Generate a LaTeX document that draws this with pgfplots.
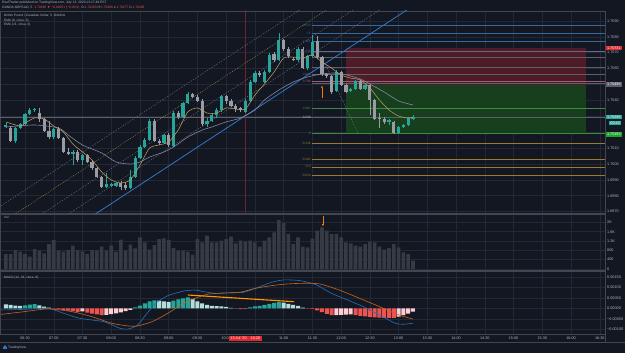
\documentclass[border=0pt]{standalone}
\usepackage{fontspec}
\setmainfont{Liberation Sans}
\usepackage{pgfplots}
\usepackage{pgfplotstable}
\pgfplotsset{compat=1.18}
\usetikzlibrary{arrows.meta}

\definecolor{bg}{HTML}{131722}
\definecolor{gridc}{HTML}{242835}
\definecolor{sep}{HTML}{434651}
\definecolor{txt}{HTML}{B2B5BE}
\definecolor{bull}{HTML}{26A69A}
\definecolor{bear}{HTML}{9A9CA5}
\definecolor{emaA}{HTML}{B89C63}
\definecolor{emaB}{HTML}{8A8CAA}
\definecolor{volc}{HTML}{363A45}
\definecolor{hdark}{HTML}{26A69A}
\definecolor{hlight}{HTML}{B2DFDB}
\definecolor{hred}{HTML}{EF5350}
\definecolor{hpink}{HTML}{FFCDD2}
\definecolor{macdc}{HTML}{2471B8}
\definecolor{sigc}{HTML}{C8641E}
\definecolor{fibblue}{HTML}{34699E}
\definecolor{fiborange}{HTML}{9C7A35}
\definecolor{fibgreen}{HTML}{3E8A45}
\definecolor{fibgray}{HTML}{5D606B}
\definecolor{fibpink}{HTML}{9C5F73}
\definecolor{fibpurple}{HTML}{6E6390}
\definecolor{stopfill}{HTML}{4E1B26}
\definecolor{tgtfill}{HTML}{173F1D}
\definecolor{chgray}{HTML}{6A6D78}
\definecolor{chyel}{HTML}{9A9A3C}
\definecolor{chblue}{HTML}{2F78C4}
\definecolor{arrowc}{HTML}{F57C00}
\definecolor{trendc}{HTML}{FF9800}
\definecolor{redlbl}{HTML}{E0282E}
\definecolor{greylbl}{HTML}{5D606B}
\definecolor{greenlbl}{HTML}{1FA329}
\definecolor{vline}{HTML}{6B2430}
\definecolor{hdred}{HTML}{EF5350}

\newcommand{\axfont}{\fontsize{3.8}{4.5}\selectfont}
\newcommand{\hdfont}{\fontsize{3.3}{4}\selectfont}
\newcommand{\fbfont}{\fontsize{3.2}{4}\selectfont}

\pgfplotstableread{
i o h l c
-4 1.70233 1.70258 1.70226 1.70245
-2 1.70145 1.70233 1.70132 1.70226
-1 1.70226 1.70258 1.70220 1.70252
0 1.70252 1.70321 1.70245 1.70315
1 1.70315 1.70352 1.70308 1.70340
2 1.70337 1.70352 1.70327 1.70343
6 1.70170 1.70226 1.70157 1.70220
10 1.70063 1.70088 1.69994 1.70075
12 1.70025 1.70063 1.69994 1.70057
17 1.69855 1.69943 1.69849 1.69874
18 1.69862 1.69880 1.69855 1.69874
19 1.69862 1.69887 1.69855 1.69880
22 1.69849 1.69962 1.69843 1.69918
23 1.69918 1.70050 1.69912 1.70038
24 1.70038 1.70120 1.70031 1.70107
25 1.70107 1.70164 1.70101 1.70151
26 1.70151 1.70283 1.70145 1.70270
29 1.70132 1.70189 1.70126 1.70182
31 1.70113 1.70333 1.70107 1.70321
33 1.70296 1.70390 1.70289 1.70384
34 1.70384 1.70453 1.70377 1.70440
38 1.70252 1.70289 1.70233 1.70270
39 1.70270 1.70321 1.70264 1.70308
40 1.70308 1.70352 1.70289 1.70340
41 1.70340 1.70434 1.70327 1.70428
46 1.70327 1.70409 1.70321 1.70396
47 1.70396 1.70528 1.70390 1.70516
48 1.70516 1.70585 1.70509 1.70572
50 1.70516 1.70591 1.70509 1.70579
51 1.70579 1.70698 1.70572 1.70686
53 1.70654 1.70824 1.70648 1.70780
57 1.70654 1.70736 1.70642 1.70723
59 1.70604 1.70686 1.70591 1.70679
60 1.70679 1.70811 1.70673 1.70767
65 1.70459 1.70591 1.70453 1.70579
68 1.70459 1.70478 1.70453 1.70472
69 1.70472 1.70528 1.70465 1.70522
71 1.70472 1.70503 1.70465 1.70497
76 1.70261 1.70283 1.70245 1.70274
78 1.70195 1.70239 1.70189 1.70233
79 1.70233 1.70252 1.70226 1.70245
80 1.70245 1.70296 1.70239 1.70289
81 1.70283 1.70308 1.70277 1.70296
}\bulltab

\pgfplotstableread{
i o h l c
-3 1.70226 1.70239 1.70138 1.70145
3 1.70321 1.70352 1.70264 1.70283
4 1.70283 1.70289 1.70201 1.70208
5 1.70208 1.70270 1.70157 1.70170
7 1.70220 1.70233 1.70157 1.70164
8 1.70164 1.70170 1.70069 1.70075
9 1.70075 1.70101 1.70057 1.70063
11 1.70075 1.70088 1.70013 1.70025
13 1.70057 1.70063 1.70006 1.70013
14 1.70013 1.70025 1.69962 1.69975
15 1.69975 1.69981 1.69912 1.69918
16 1.69918 1.69925 1.69849 1.69855
20 1.69880 1.69893 1.69836 1.69855
21 1.69868 1.69887 1.69836 1.69849
27 1.70270 1.70283 1.70138 1.70145
28 1.70145 1.70157 1.70120 1.70132
30 1.70182 1.70195 1.70107 1.70120
32 1.70321 1.70333 1.70283 1.70296
35 1.70440 1.70447 1.70415 1.70421
36 1.70421 1.70434 1.70390 1.70396
37 1.70396 1.70409 1.70239 1.70252
42 1.70428 1.70434 1.70377 1.70396
43 1.70396 1.70409 1.70359 1.70365
44 1.70365 1.70377 1.70327 1.70346
45 1.70352 1.70359 1.70327 1.70340
49 1.70572 1.70585 1.70547 1.70560
52 1.70692 1.70704 1.70642 1.70654
54 1.70780 1.70786 1.70711 1.70723
55 1.70723 1.70736 1.70667 1.70679
56 1.70660 1.70673 1.70648 1.70657
58 1.70723 1.70736 1.70598 1.70604
61 1.70774 1.70805 1.70660 1.70673
62 1.70673 1.70679 1.70554 1.70566
63 1.70566 1.70572 1.70541 1.70554
64 1.70554 1.70560 1.70440 1.70453
66 1.70579 1.70585 1.70491 1.70497
67 1.70497 1.70503 1.70447 1.70453
70 1.70522 1.70528 1.70465 1.70472
72 1.70497 1.70503 1.70308 1.70403
73 1.70403 1.70409 1.70277 1.70283
74 1.70289 1.70321 1.70226 1.70283
75 1.70283 1.70296 1.70252 1.70264
77 1.70264 1.70270 1.70189 1.70195
}\beartab

\pgfplotsset{
  tv/.style={
    scale only axis, width=605bp,
    xmin=-5.22, xmax=121.09,
    axis line style={draw=sep, line width=0.6bp},
    grid=major, major grid style={draw=gridc, line width=0.45bp},
    xtick={0,6,...,120}, xticklabels={},
    major tick length=0pt,
    scaled ticks=false,
    ytick pos=right, yticklabel pos=right,
    yticklabel style={font=\axfont, text=txt, anchor=west, inner sep=0pt, xshift=2bp},
    clip=true,
  },
}

\begin{document}
\begin{tikzpicture}[x=1bp,y=1bp]
\path[use as bounding box] (0,0) rectangle (625,353);
\fill[bg] (0,0) rectangle (625,353);

% ---------------- price pane ----------------
\begin{axis}[tv, at={(0bp,139.5bp)}, anchor=south west, height=202.5bp,
  ymin=1.69688, ymax=1.70962,
  ytick={1.697,1.698,1.699,1.700,1.701,1.702,1.703,1.704,1.705,1.706,1.707,1.708,1.709},
  yticklabels={1.6970,1.6980,1.6990,1.7000,1.7010,{},{},1.7040,{},1.7060,1.7070,1.7080,1.7090}]
% position tool boxes
\addplot[draw=none, fill=stopfill] coordinates {(67,1.70496) (117.1,1.70496) (117.1,1.70731) (67,1.70731)};
\addplot[draw=none, fill=tgtfill] coordinates {(67,1.70193) (117.1,1.70193) (117.1,1.70496) (67,1.70496)};
% fib lines
\addplot[fibblue, line width=0.5bp] coordinates {(59.9,1.70874) (121.1,1.70874)};
\addplot[fibblue, line width=0.5bp] coordinates {(59.9,1.70822) (121.1,1.70822)};
\addplot[fibblue, line width=0.5bp] coordinates {(59.9,1.70773) (121.1,1.70773)};
\addplot[fibpurple, line width=0.5bp] coordinates {(59.9,1.70706) (121.1,1.70706)};
\addplot[fibgray, line width=0.5bp] coordinates {(59.9,1.70671) (121.1,1.70671)};
\addplot[fibgray, line width=0.5bp] coordinates {(59.9,1.70611) (121.1,1.70611)};
\addplot[fibgray, line width=0.5bp] coordinates {(59.9,1.70566) (121.1,1.70566)};
\addplot[fibpink, line width=0.5bp] coordinates {(59.9,1.70517) (121.1,1.70517)};
\addplot[fibgray, line width=0.5bp] coordinates {(59.9,1.70507) (121.1,1.70507)};
\addplot[fibgreen, line width=0.5bp] coordinates {(59.9,1.70350) (121.1,1.70350)};
\addplot[fibgray, line width=0.5bp] coordinates {(59.9,1.70291) (121.1,1.70291)};
\addplot[fibgreen, line width=0.5bp] coordinates {(59.9,1.70193) (121.1,1.70193)};
\addplot[fiborange, line width=0.5bp] coordinates {(59.9,1.70130) (121.1,1.70130)};
\addplot[fiborange, line width=0.5bp] coordinates {(59.9,1.70029) (121.1,1.70029)};
\addplot[fiborange, line width=0.5bp] coordinates {(59.9,1.69982) (121.1,1.69982)};
\addplot[fiborange, line width=0.5bp] coordinates {(59.9,1.69930) (121.1,1.69930)};
% current price line
\addplot[fibgray, line width=0.4bp] coordinates {(-6,1.70296) (121.1,1.70296)};
% red time marker
\addplot[vline, line width=0.5bp] coordinates {(46,1.6960) (46,1.7100)};
% channel lines
\addplot[chgray, line width=0.45bp, dash pattern=on 1.4bp off 1.4bp] coordinates {(-6,1.69717) (100,1.71811)};
\addplot[chyel, line width=0.45bp, dash pattern=on 0.8bp off 1.2bp] coordinates {(-6,1.69607) (100,1.71701)};
\addplot[chgray, line width=0.45bp, dash pattern=on 1.4bp off 1.4bp] coordinates {(-6,1.69497) (100,1.71591)};
\addplot[chgray, line width=0.45bp, dash pattern=on 1.4bp off 1.4bp] coordinates {(-6,1.69387) (100,1.71481)};
\addplot[chblue, line width=0.8bp] coordinates {(-6,1.69276) (100,1.71369)};
\addplot[chgray, line width=0.45bp, dash pattern=on 1.4bp off 1.4bp] coordinates {(62.6,1.70635) (69.5,1.70194)};
% candles
\addplot[bear, line width=0.6bp, quiver={u=0, v=\thisrow{h}-\thisrow{l}}] table[x=i, y=l] {\beartab};
\addplot[bull, line width=0.6bp, quiver={u=0, v=\thisrow{h}-\thisrow{l}}] table[x=i, y=l] {\bulltab};
\addplot[bear, line width=3.2bp, quiver={u=0, v=\thisrow{c}-\thisrow{o}}] table[x=i, y=o] {\beartab};
\addplot[bull, line width=3.2bp, quiver={u=0, v=\thisrow{c}-\thisrow{o}}] table[x=i, y=o] {\bulltab};
% EMAs
\addplot[emaB, line width=0.55bp, smooth, tension=0.4] coordinates {
(-4,1.70232) (2,1.70245) (7,1.70226) (9,1.70182) (12,1.70119) (16,1.70069) (19,1.70012) (22,1.69999)
(24,1.70012) (26,1.70043) (29,1.70075) (31,1.70106) (34,1.70169) (37,1.70213) (39,1.70232) (42,1.70264)
(45,1.70289) (48,1.70339) (50,1.70402) (53,1.70465) (56,1.70515) (59,1.70547) (62,1.70566) (65,1.70572)
(68,1.70553) (70,1.70534) (72,1.70503) (75,1.70452) (78,1.70396) (81,1.70371)};
\addplot[emaA, line width=0.55bp, smooth, tension=0.4] coordinates {
(-4,1.70264) (-1,1.70238) (0,1.70257) (2,1.70289) (4,1.70283) (6,1.70238) (8,1.70201) (10,1.70125)
(12,1.70075) (14,1.70025) (16,1.69949) (18,1.69899) (20,1.69880) (22,1.69899) (24,1.69993) (26,1.70100)
(28,1.70119) (30,1.70138) (32,1.70214) (34,1.70327) (36,1.70352) (38,1.70320) (40,1.70320) (42,1.70352)
(44,1.70345) (46,1.70345) (48,1.70433) (50,1.70503) (52,1.70578) (54,1.70666) (56,1.70672) (58,1.70666)
(60,1.70685) (62,1.70641) (64,1.70603) (66,1.70559) (68,1.70540) (70,1.70528) (72,1.70478) (74,1.70402)
(76,1.70339) (78,1.70301) (80,1.70289) (81,1.70295)};
% arrow
\addplot[arrowc, line width=0.6bp, -{Latex[length=2.2bp,width=2.2bp]}] coordinates {(62,1.70412) (62,1.70493)};
% fib labels
\begin{scope}[every node/.style={anchor=east, font=\fbfont, inner sep=0pt}]
\node[text=fibblue] at (59.7,1.70874) {1.618};
\node[text=fibblue] at (59.7,1.70822) {1.5};
\node[text=fibblue] at (59.7,1.70773) {1.382};
\node[text=fibpurple] at (59.7,1.70706) {1.236};
\node[text=fibgray] at (59.7,1.70566) {0.886};
\node[text=fibpink] at (59.7,1.70517) {0.786};
\node[text=fibgreen] at (59.7,1.70350) {0.382};
\node[text=txt] at (59.7,1.70291) {0.236};
\node[text=fibgreen] at (59.7,1.70193) {0};
\node[text=fiborange] at (59.7,1.70130) {−0.146};
\node[text=fiborange] at (59.7,1.70029) {−0.382};
\node[text=fiborange] at (59.7,1.69982) {−0.5};
\node[text=fiborange] at (59.7,1.69930) {−0.618};
\end{scope}
\end{axis}

% ---------------- volume pane ----------------
\begin{axis}[tv, at={(0bp,83bp)}, anchor=south west, height=55.5bp,
  ymin=-43, ymax=2339,
  ytick={0,400,800,1200,1600,2000}, yticklabels={0,400,800,1.2K,1.6K,2K}]
\addplot[ybar, bar width=3.6bp, bar shift=0pt, fill=volc, draw=none] coordinates {
(-4,643)(-3,643)(-2,815)(-1,742)(0,643)(1,528)(2,858)(3,785)(4,669)(5,1072)(6,1244)(7,785)(8,742)(9,815)
(10,1000)(11,815)(12,755)(13,643)(14,815)(15,785)(16,957)(17,785)(18,1000)(19,742)(20,1257)(21,785)
(22,1043)(23,884)(24,1356)(25,1141)(26,828)(27,1030)(28,1287)(29,1313)(30,1244)(31,901)(32,785)(33,785)
(34,742)(35,613)(36,1287)(37,1141)(38,1428)(39,1141)(40,1141)(41,1214)(42,1287)(43,1386)(44,1098)
(45,1214)(46,1170)(47,1214)(48,1141)(49,957)(50,1214)(51,1356)(52,1570)(53,2102)(54,1973)(55,1501)
(56,1072)(57,1356)(58,957)(59,930)(60,1300)(61,1643)(62,1785)(63,1643)(64,1501)(65,1501)(66,1356)
(67,1141)(68,1098)(69,1000)(70,957)(71,1072)(72,1170)(73,1141)(74,957)(75,828)(76,901)(77,1072)
(78,930)(79,712)(80,643)(81,356)};
\addplot[arrowc, line width=0.6bp, -{Latex[length=2.2bp,width=2.2bp]}] coordinates {(62.2,2260) (62.2,1830)};
\end{axis}

% ---------------- MACD pane ----------------
\begin{axis}[tv, at={(0bp,18.5bp)}, anchor=south west, height=63.5bp,
  ymin=-0.001247, ymax=0.001775,
  ytick={-0.001,-0.0005,0,0.0005,0.001,0.0015},
  yticklabels={−0.00100,−0.00050,0.00000,0.00050,0.00100,0.00150},
  xticklabels={06:30,07:00,07:30,08:00,08:30,09:00,09:30,10:00,{},11:00,11:30,12:00,12:30,13:00,13:30,14:00,14:30,15:00,15:30,16:00,16:30},
  xticklabel style={font=\axfont, text=txt, anchor=north, inner sep=0pt, yshift=-2.4bp}]
\addplot[ybar, bar width=4bp, bar shift=0pt, fill=hdark, draw=none] coordinates {
(0,.00014)(1,.00018)(2,.00020)(23,.00005)(24,.00013)(25,.00023)(26,.00033)(27,.00038)(31,.00037)(32,.00042)
(33,.00047)(34,.00052)(47,.00005)(48,.00009)(49,.00012)(50,.00016)(51,.00021)(52,.00026)(53,.00031)};
\addplot[ybar, bar width=4bp, bar shift=0pt, fill=hlight, draw=none] coordinates {
(-4,.00019)(-3,.00016)(-2,.00013)(-1,.00011)(3,.00014)(4,.00008)(5,.00003)(28,.00036)(29,.00033)(30,.00031)
(35,.00045)(36,.00033)(37,.00023)(38,.00016)(39,.00012)(40,.00010)(41,.00009)(42,.00007)(43,.00002)
(54,.00027)(55,.00021)(56,.00016)(57,.00011)(58,.00003)};
\addplot[ybar, bar width=4bp, bar shift=0pt, fill=hred, draw=none] coordinates {
(6,-.00002)(7,-.00005)(8,-.00008)(9,-.00011)(10,-.00014)(11,-.00017)(13,-.00020)(14,-.00025)(15,-.00029)
(16,-.00032)(44,-.00002)(45,-.00004)(59,-.00001)(60,-.00003)(61,-.00010)(62,-.00018)(63,-.00026)(64,-.00033)
(69,-.00033)(70,-.00036)(71,-.00039)(72,-.00041)(73,-.00043)(74,-.00044)(75,-.00045)(76,-.00046)(77,-.00046)};
\addplot[ybar, bar width=4bp, bar shift=0pt, fill=hpink, draw=none] coordinates {
(12,-.00015)(17,-.00031)(18,-.00028)(19,-.00024)(20,-.00019)(21,-.00013)(22,-.00007)(46,-.00001)
(65,-.00032)(66,-.00031)(67,-.00030)(68,-.00029)(78,-.00040)(79,-.00033)(80,-.00025)(81,-.00016)};
\addplot[macdc, line width=0.6bp, smooth, tension=0.4] coordinates {
(-5,-0.00008) (0,-0.00005) (4.8,0.0) (8.1,-0.00024) (11.5,-0.00048) (16.5,-0.00064) (19.8,-0.00095)
(21.5,-0.00099) (23.5,-0.00080) (25.2,-0.00032) (27.3,0.00024) (29.8,0.00060) (33.1,0.00082) (35.6,0.00087)
(37.3,0.00079) (39.8,0.00071) (43.1,0.00074) (45.6,0.00076) (48.1,0.00095) (51.5,0.00124) (54,0.00135)
(57.3,0.00132) (60.6,0.00114) (64,0.00071) (67.3,0.00040) (70.6,0.00008) (74,-0.00032) (77.3,-0.00071)
(79,-0.00076) (81,-0.00071)};
\addplot[sigc, line width=0.6bp, smooth, tension=0.4] coordinates {
(-5,-0.00029) (-0.2,-0.00016) (4.8,-0.00003) (9.8,-0.00016) (14,-0.00040) (18.1,-0.00071) (21.5,-0.00084)
(23.5,-0.00084) (26.5,-0.00064) (29.8,-0.00024) (33.1,0.00024) (35.6,0.00048) (38.1,0.00067) (41.5,0.00073)
(44.8,0.00076) (48.1,0.00095) (51.5,0.00108) (54.8,0.00116) (58.1,0.00119) (61.5,0.00116) (65.6,0.00087)
(69.8,0.00048) (74,0.00008) (78.1,-0.00032) (81,-0.00051)};
\addplot[trendc, line width=1.1bp] coordinates {(34,0.000633) (56.2,0.000314)};
\end{axis}

% ---------------- overlays ----------------
\draw[sep, line width=0.6bp] (0,11) -- (625,11);
\draw[sep, line width=0.6bp] (605,11) -- (605,18.5);
% right axis boxes
\begin{scope}[every node/.style={font=\axfont, text=white, anchor=west, inner xsep=1.2bp, inner ysep=0.7bp}]
\node[fill=redlbl] at (605.6,305.3) {1.70731};
\node[fill=greylbl] at (605.6,268.5) {1.70496};
\node[fill=bull] at (605.6,236) {1.70296};
\node[fill=bull] at (609,229.8) {00:43};
\node[fill=greenlbl] at (605.6,218.5) {1.70193};
\end{scope}
% time box
\node[fill=redlbl, text=white, font=\axfont, inner xsep=1.5bp, inner ysep=0.8bp] at (245.3,14.5) {13 Jul '20\hspace{4bp}10:20};
% header
\node[anchor=west, font=\hdfont, text=txt, inner sep=0pt] at (2,350.3) {ReefTrader published on TradingView.com, July 13, 2020 13:17:49 EST};
\node[anchor=west, font=\hdfont, text=txt, inner sep=0pt] at (2,345.5) {OANDA:GBPCAD, 5\hspace{2bp}\textcolor{hdred}{1.70296 ▼ −0.00051 (−0.03\%)}\hspace{2bp}O:\textcolor{hdred}{1.70283} H:\textcolor{hdred}{1.70308} L:\textcolor{hdred}{1.70277} C:\textcolor{hdred}{1.70296}};
% pane titles
\begin{scope}[every node/.style={anchor=west, font=\fbfont, text=txt, inner sep=0pt}]
\node at (4,337.5) {British Pound / Canadian Dollar, 5, OANDA};
\node at (4,332.8) {EMA (8, close, 0)};
\node at (4,328.2) {EMA (21, close, 0)};
\node at (4,135.5) {Vol};
\node at (4,75) {MACD (12, 26, close, 9)};
\end{scope}
% logo
\fill[chblue] (3,4) rectangle (7,6.5);
\fill[chblue] (5,6.5) circle (1.3);
\node[anchor=west, font=\hdfont, text=txt, inner sep=0pt] at (8,5) {TradingView};
\end{tikzpicture}
\end{document}
